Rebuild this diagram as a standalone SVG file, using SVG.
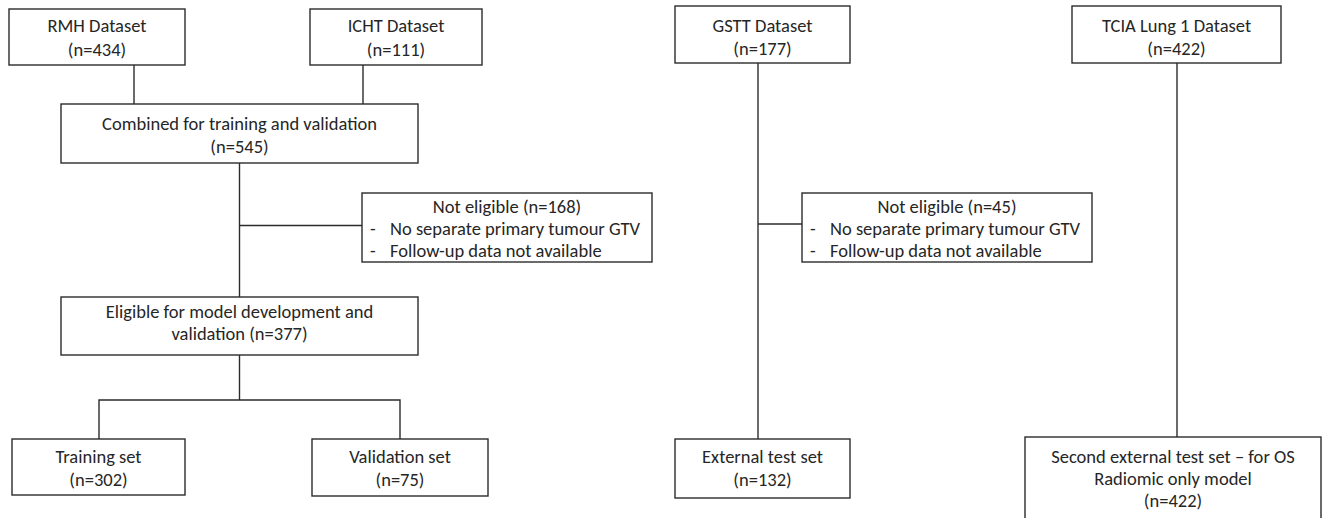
<svg xmlns="http://www.w3.org/2000/svg" width="1323" height="518" viewBox="0 0 1323 518">
<style>
  .box { fill: #ffffff; stroke: #2b2b2b; stroke-width: 1.4; }
  .conn { fill: none; stroke: #2b2b2b; stroke-width: 1.4; }
  text { font-family: "Carlito", "Lato", "Liberation Sans", sans-serif; font-size: 18.5px; fill: #262626; }
  .c { text-anchor: middle; }
</style>
<rect width="1323" height="518" fill="#ffffff"/>
<g id="connectors">
  <line class="conn" x1="134" y1="65" x2="134" y2="104"/>
  <line class="conn" x1="363" y1="65" x2="363" y2="104"/>
  <line class="conn" x1="239.5" y1="163" x2="239.5" y2="297"/>
  <line class="conn" x1="239.5" y1="225.5" x2="362" y2="225.5"/>
  <line class="conn" x1="239.5" y1="355" x2="239.5" y2="400"/>
  <polyline class="conn" points="99,439 99,400 400,400 400,439"/>
  <line class="conn" x1="758" y1="63" x2="758" y2="439"/>
  <line class="conn" x1="758" y1="224" x2="802" y2="224"/>
  <line class="conn" x1="1177" y1="63" x2="1177" y2="437"/>
</g>
<g id="rmh">
  <rect class="box" x="9" y="9" width="176" height="56"/>
  <text class="c" x="97" y="32">RMH Dataset</text>
  <text class="c" x="97" y="56">(n=434)</text>
</g>
<g id="icht">
  <rect class="box" x="310" y="9" width="172" height="56"/>
  <text class="c" x="396" y="32">ICHT Dataset</text>
  <text class="c" x="396" y="56">(n=111)</text>
</g>
<g id="combined">
  <rect class="box" x="61" y="104" width="357" height="59"/>
  <text class="c" x="239.5" y="130">Combined for training and validation</text>
  <text class="c" x="239.5" y="153">(n=545)</text>
</g>
<g id="not-eligible-1">
  <rect class="box" x="362" y="193" width="290" height="69"/>
  <text class="c" x="507" y="213">Not eligible (n=168)</text>
  <text x="370" y="235">-</text>
  <text x="390" y="235">No separate primary tumour GTV</text>
  <text x="370" y="257">-</text>
  <text x="390" y="257">Follow-up data not available</text>
</g>
<g id="eligible">
  <rect class="box" x="61" y="297" width="357" height="58"/>
  <text class="c" x="239.5" y="318">Eligible for model development and</text>
  <text class="c" x="239.5" y="340">validation (n=377)</text>
</g>
<g id="training">
  <rect class="box" x="12" y="439" width="173" height="56"/>
  <text class="c" x="98.5" y="463">Training set</text>
  <text class="c" x="98.5" y="486">(n=302)</text>
</g>
<g id="validation">
  <rect class="box" x="312" y="439" width="176" height="57"/>
  <text class="c" x="400" y="463">Validation set</text>
  <text class="c" x="400" y="486">(n=75)</text>
</g>
<g id="gstt">
  <rect class="box" x="675" y="6" width="175" height="57"/>
  <text class="c" x="762.5" y="32">GSTT Dataset</text>
  <text class="c" x="762.5" y="55">(n=177)</text>
</g>
<g id="not-eligible-2">
  <rect class="box" x="802" y="193" width="290" height="69"/>
  <text class="c" x="947" y="213">Not eligible (n=45)</text>
  <text x="810" y="235">-</text>
  <text x="830" y="235">No separate primary tumour GTV</text>
  <text x="810" y="257">-</text>
  <text x="830" y="257">Follow-up data not available</text>
</g>
<g id="external">
  <rect class="box" x="675" y="439" width="175" height="59"/>
  <text class="c" x="762.5" y="463">External test set</text>
  <text class="c" x="762.5" y="486">(n=132)</text>
</g>
<g id="tcia">
  <rect class="box" x="1072" y="6" width="209" height="57"/>
  <text class="c" x="1176.5" y="32">TCIA Lung 1 Dataset</text>
  <text class="c" x="1176.5" y="55">(n=422)</text>
</g>
<g id="second-external">
  <rect class="box" x="1025" y="437" width="296" height="90"/>
  <text class="c" x="1173" y="463">Second external test set – for OS</text>
  <text class="c" x="1173" y="485">Radiomic only model</text>
  <text class="c" x="1173" y="507">(n=422)</text>
</g>
</svg>
